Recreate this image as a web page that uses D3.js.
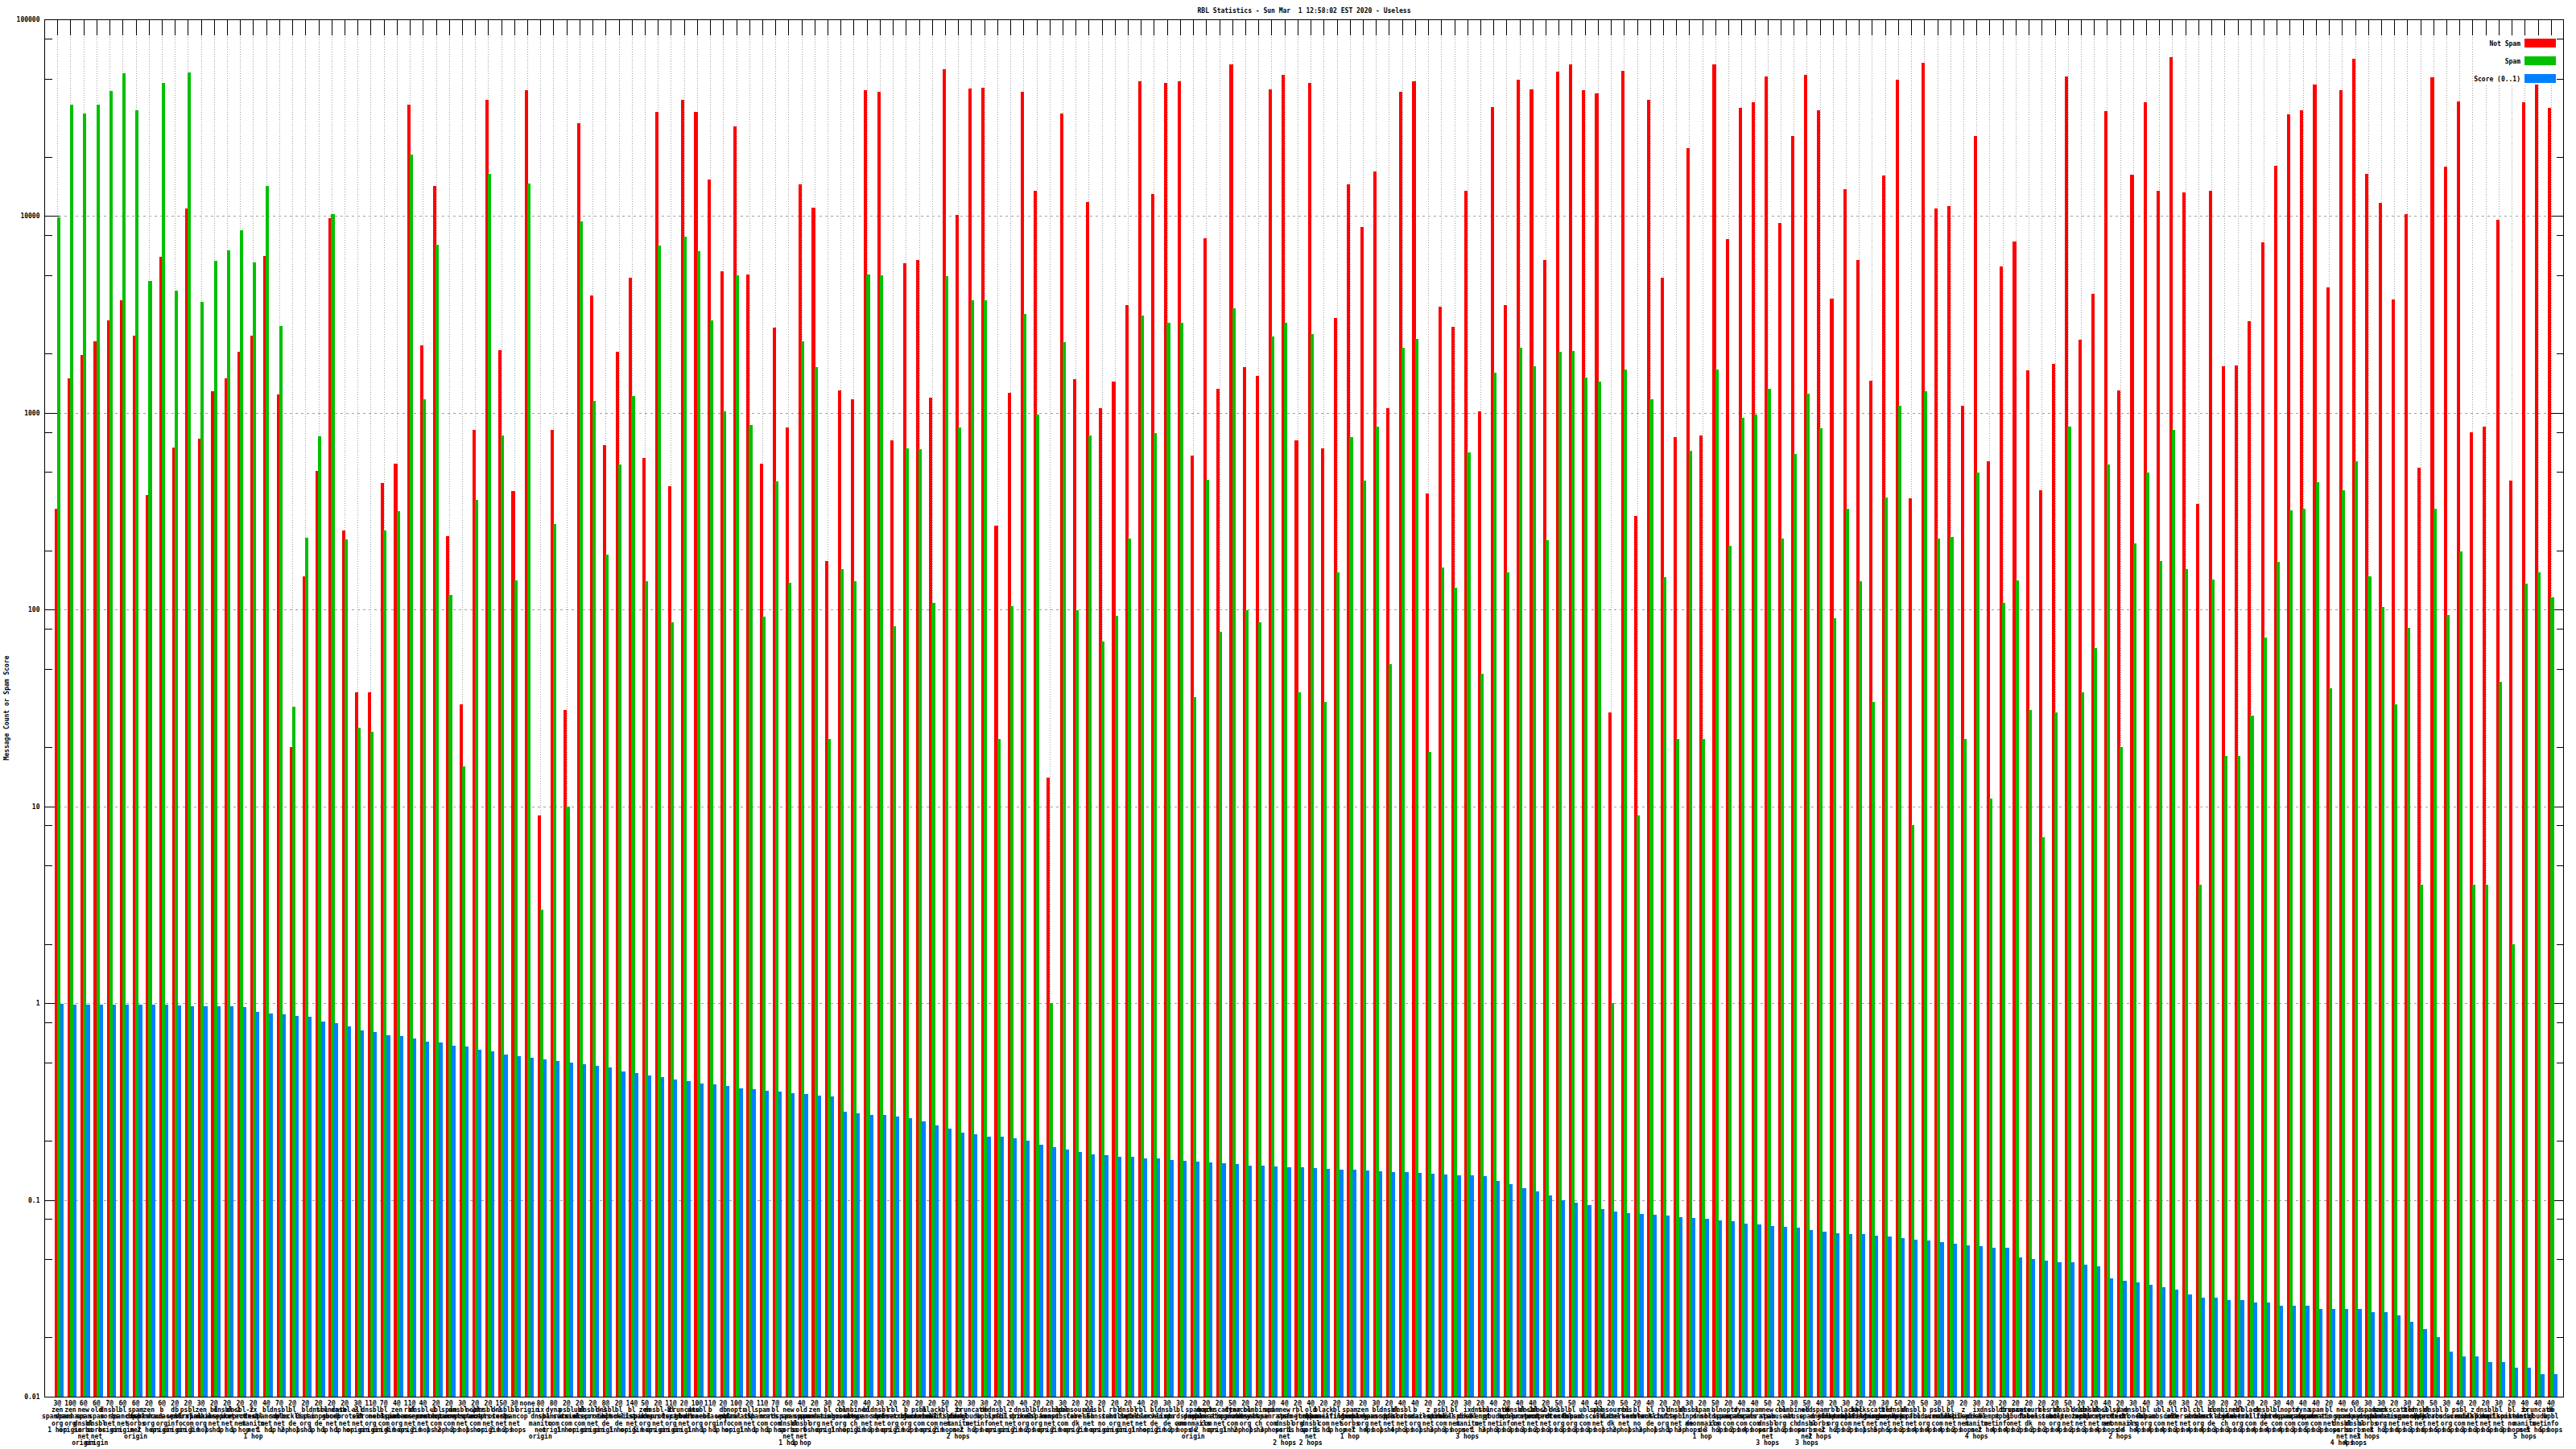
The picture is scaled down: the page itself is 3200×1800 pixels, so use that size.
<!DOCTYPE html>
<html><head><meta charset="utf-8">
<script src="https://cdn.jsdelivr.net/npm/d3@7"></script>
<style>
body{margin:0;background:#fff}
svg{display:block}
text{font-family:"DejaVu Sans Mono",monospace;font-size:8px;font-weight:bold;fill:#000}
</style>
</head><body>
<svg id="chart" width="3200" height="1800"></svg>
<script>
const title = "RBL Statistics - Sun Mar  1 12:58:02 EST 2020 - Useless";
const yTitle = "Message Count or Spam Score";
const seriesNames = ["Not Spam", "Spam", "Score (0..1)"];
const seriesColors = ["#ff0000", "#00c000", "#0080ff"];
const yTickValues = [0.01, 0.1, 1, 10, 100, 1000, 10000, 100000];
const yTickLabels = ["0.01", "0.1", "1", "10", "100", "1000", "10000", "100000"];

const notSpam = [327,1493,1965,2315,2940,3725,2475,382,6230,668,10900,736,1286,1504,2040,2475,6280,1240,20,147,507,9730,252,38,38,440,550,36900,2197,14200,237,33,
817,39100,2085,400,43800,9,817,31,29700,3958,683,2040,4840,589,34000,424,39100,34000,15400,5250,28600,5060,550,2707,841,14550,11050,176,1295,1175,43460,42840,
725,5780,5960,1194,56000,10100,44400,45100,267,1267,42840,13400,14,33200,1482,11810,1052,1438,3540,48200,12900,47500,48200,607,7730,1325,59000,1707,1538,44100,52300,725,47500,
658,3027,14550,8830,16900,1060,42840,48200,391,3460,2748,13400,1014,35800,3540,49300,44100,6000,54300,59000,43800,42200,30,54700,299,39100,4875,753,22240,764,59000,7670,
35550,38000,51200,9240,25600,52000,34500,3810,13700,5960,1459,16150,49300,368,60300,10900,11200,1084,25600,567,5570,7450,1644,406,1771,51200,2350,4015,34250,1306,16270,38000,13500,
64450,13200,344,13400,1732,1745,2917,7340,18060,33000,34500,46800,4325,43800,63050,16400,11640,3785,10250,527,50800,17920,38300,793,854,9590,451,38000,46500,35550];

const spam = [9810,36900,33200,36900,43400,53100,34500,4700,47500,4200,53900,3650,5910,6710,8510,5820,14200,2770,32,232,758,10250,227,25,24,252,315,20600,1167,7180,119,16,
360,16400,770,141,14700,3,271,10,9440,1150,190,547,1222,139,7070,86,7850,6610,2960,1014,5020,867,92,447,137,2316,1707,22,160,139,5060,5020,
82,658,653,108,4946,841,3726,3726,22,104,3190,977,1,2280,99,769,68.5,93,229,3120,787,2871,2871,36,457,77,3410,99,86,2440,2871,38,2513,
34,155,753,451,854,53,2133,2385,19,164,129,629,47,1607,154,2148,1719,225,2040,2070,1514,1438,1,1657,9,1167,146,22,639,22,1657,212,
948,984,1325,229,615,1248,835,90,324,139,34,371,1084,8,1286,229,234,22,496,11,108,141,31,7,30,848,38,64,547,20,217,496,176,
823,160,4,142,18,18,29,72,175,320,327,444,40,403,567,147,103,33,81,4,327,94,197,4,4,43,2,136,155,116];

const score = [0.995,0.985,0.985,0.985,0.985,0.985,0.985,0.98,0.98,0.97,0.965,0.965,0.965,0.965,0.955,
0.90,0.89,0.88,0.86,0.85,0.81,0.79,0.76,0.73,0.71,0.69,0.68,0.66,0.64,0.63,
0.61,0.60,0.58,0.57,0.55,0.54,0.53,0.52,0.51,0.50,0.49,0.48,0.47,0.45,0.44,
0.43,0.42,0.41,0.40,0.39,0.385,0.38,0.37,0.365,0.36,0.355,0.35,0.345,0.34,0.335,
0.28,0.275,0.27,0.27,0.265,0.26,0.25,0.24,0.23,0.22,0.215,0.21,0.21,0.205,0.20,
0.19,0.185,0.18,0.175,0.17,0.168,0.166,0.165,0.163,0.162,0.16,0.158,0.156,0.155,0.154,
0.152,0.15,0.149,0.148,0.147,0.146,0.145,0.144,0.143,0.142,0.141,0.14,0.139,0.138,0.137,
0.136,0.135,0.134,0.133,0.132,0.125,0.12,0.115,0.11,0.105,0.1,0.097,0.094,0.09,0.087,
0.086,0.085,0.084,0.083,0.082,0.081,0.08,0.079,0.078,0.076,0.075,0.074,0.073,0.072,0.07,
0.069,0.068,0.067,0.067,0.066,0.065,0.064,0.063,0.062,0.061,0.06,0.059,0.058,0.057,0.057,
0.051,0.05,0.049,0.048,0.048,0.047,0.046,0.04,0.039,0.038,0.037,0.036,0.035,0.033,0.032,
0.032,0.031,0.031,0.030,0.030,0.029,0.029,0.029,0.028,0.028,0.028,0.028,0.027,0.027,0.026,
0.024,0.022,0.02,0.017,0.016,0.016,0.015,0.015,0.014,0.014,0.013,0.013];

const labels = [
"3@ zen.spamhaus.org 1 hop","10@ zen.spamhaus.org origin","6@ new.spam.dnsbl.sorbs.net origin","6@ old.spam.dnsbl.sorbs.net origin",
"7@ dnsbl.sorbs.net origin","6@ bl.spamcop.net origin","6@ spam.dnsbl.sorbs.net origin","2@ zen.spamhaus.org 2 hops",
"6@ b.barracudacentral.org origin","2@ db.wpbl.info origin","2@ psbl.surriel.com origin","3@ zen.spamhaus.org 3 hops",
"2@ bl.mailspike.net 1 hop","2@ dnsbl-1.uceprotect.net 1 hop","2@ dnsbl-2.uceprotect.net 1 hop","2@ ix.dnsbl.manitu.net 1 hop",
"4@ bl.spamcop.net 1 hop","7@ dnsbl.sorbs.net 1 hop","2@ bl.blocklist.de 2 hops","2@ bl.0spam.org 1 hop",
"2@ dnsbl.inps.de 1 hop","2@ truncate.gbudb.net 1 hop","2@ dnsbl-3.uceprotect.net 1 hop","3@ all.s5h.net origin",
"11@ dnsbl.dronebl.org origin","7@ bl.nordspam.com origin","4@ zen.spamhaus.org 4 hops","11@ rbl.interserver.net origin",
"4@ dnsbl-1.uceprotect.net 2 hops","2@ ubl.unsubscore.com 1 hop","2@ spam.spamrats.com 2 hops","3@ dnsbl-2.uceprotect.net 2 hops",
"2@ noptr.spamrats.com 1 hop","2@ dnsbl-1.uceprotect.net origin","15@ dnsbl.sorbs.net 2 hops","3@ bl.spamcop.net 2 hops",
"none origin","8@ ix.dnsbl.manitu.net origin","8@ dyna.spamrats.com origin","2@ psbl.surriel.com 1 hop",
"2@ ubl.unsubscore.com origin","2@ dnsbl-3.uceprotect.net origin","8@ dnsbl.inps.de origin","2@ bl.blocklist.de 1 hop",
"14@ bl.mailspike.net origin","5@ zen.spamhaus.org 5 hops","2@ dnsbl-2.uceprotect.net origin","11@ bl.0spam.org origin",
"2@ truncate.gbudb.net origin","10@ dnsbl.dronebl.org 1 hop","11@ b.barracudacentral.org 1 hop","2@ db.wpbl.info 1 hop",
"10@ noptr.spamrats.com origin","2@ all.s5h.net 1 hop","11@ spam.spamrats.com 1 hop","7@ bl.nordspam.com 1 hop",
"6@ new.spam.dnsbl.sorbs.net 1 hop","4@ old.spam.dnsbl.sorbs.net 1 hop","2@ zen.spamhaus.org 6 hops","3@ bl.spameatingmonkey.net origin",
"2@ cbl.abuseat.org 1 hop","2@ combined.abuse.ch origin","4@ bl.spamcop.net 3 hops","3@ dnsbl.sorbs.net 3 hops",
"2@ rbl.efnetrbl.org origin","2@ b.barracudacentral.org 2 hops","2@ psbl.surriel.com 2 hops","2@ black.junkemailfilter.com origin",
"5@ bl.mailspike.net 2 hops","2@ ix.dnsbl.manitu.net 2 hops","3@ truncate.gbudb.net 2 hops","3@ db.wpbl.info 2 hops",
"2@ dnsbl.spfbl.net origin","2@ z.mailspike.net origin","4@ dnsbl.dronebl.org 2 hops","2@ bl.0spam.org 2 hops",
"2@ dnsbl.kempt.net origin","3@ ubl.unsubscore.com 2 hops","2@ spamsources.fabel.dk origin","2@ all.s5h.net 2 hops",
"2@ bl.konstant.no origin","2@ rbl.schulte.org origin","2@ dnsbl.zapbl.net origin","4@ rbl.interserver.net 1 hop",
"2@ bl.blocklist.de origin","3@ dnsbl.inps.de 2 hops","3@ bl.nordspam.com 2 hops","2@ spam.dnsbl.anonmails.de origin",
"2@ noptr.spamrats.com 2 hops","2@ backscatter.spameatingmonkey.net origin","5@ dyna.spamrats.com 1 hop","2@ cbl.abuseat.org 2 hops",
"2@ combined.abuse.ch 1 hop","3@ spam.spamrats.com 3 hops","4@ new.spam.dnsbl.sorbs.net 2 hops","2@ rbl.efnetrbl.org 1 hop",
"4@ old.spam.dnsbl.sorbs.net 2 hops","2@ black.junkemailfilter.com 1 hop","2@ bl.spameatingmonkey.net 1 hop","3@ spam.dnsbl.sorbs.net 1 hop",
"2@ zen.spamhaus.org 7 hops","3@ bl.spamcop.net 4 hops","2@ dnsbl.spfbl.net 1 hop","4@ dnsbl.sorbs.net 4 hops",
"4@ b.barracudacentral.org 3 hops","2@ z.mailspike.net 1 hop","2@ psbl.surriel.com 3 hops","2@ bl.mailspike.net 3 hops",
"3@ ix.dnsbl.manitu.net 3 hops","2@ dnsbl.kempt.net 1 hop","4@ truncate.gbudb.net 3 hops","2@ db.wpbl.info 3 hops",
"4@ dnsbl-1.uceprotect.net 3 hops","4@ dnsbl-2.uceprotect.net 3 hops","2@ dnsbl-3.uceprotect.net 2 hops","5@ dnsbl.dronebl.org 3 hops",
"5@ bl.0spam.org 3 hops","4@ ubl.unsubscore.com 3 hops","4@ all.s5h.net 3 hops","2@ spamsources.fabel.dk 1 hop",
"5@ rbl.interserver.net 2 hops","2@ bl.konstant.no 1 hop","4@ bl.blocklist.de 3 hops","2@ rbl.schulte.org 1 hop",
"2@ dnsbl.zapbl.net 1 hop","3@ dnsbl.inps.de 3 hops","2@ spam.dnsbl.anonmails.de 1 hop","5@ bl.nordspam.com 3 hops",
"2@ noptr.spamrats.com 3 hops","4@ dyna.spamrats.com 2 hops","4@ spam.spamrats.com 4 hops","5@ new.spam.dnsbl.sorbs.net 3 hops",
"2@ cbl.abuseat.org 3 hops","3@ combined.abuse.ch 2 hops","5@ old.spam.dnsbl.sorbs.net 3 hops","4@ spam.dnsbl.sorbs.net 2 hops",
"2@ rbl.efnetrbl.org 2 hops","3@ black.junkemailfilter.com 2 hops","2@ bl.spameatingmonkey.net 2 hops","2@ backscatter.spameatingmonkey.net 1 hop",
"3@ bl.spamcop.net 5 hops","5@ dnsbl.sorbs.net 5 hops","2@ dnsbl.spfbl.net 2 hops","5@ b.barracudacentral.org 4 hops",
"3@ psbl.surriel.com 4 hops","3@ bl.mailspike.net 4 hops","2@ z.mailspike.net 2 hops","3@ ix.dnsbl.manitu.net 4 hops",
"2@ dnsbl.kempt.net 2 hops","2@ db.wpbl.info 4 hops","2@ truncate.gbudb.net 4 hops","2@ spamsources.fabel.dk 2 hops",
"2@ bl.konstant.no 2 hops","2@ rbl.schulte.org 2 hops","5@ dnsbl-1.uceprotect.net 4 hops","2@ dnsbl.zapbl.net 2 hops",
"2@ dnsbl-3.uceprotect.net 3 hops","4@ dnsbl-2.uceprotect.net 4 hops","2@ spam.dnsbl.anonmails.de 2 hops","3@ dnsbl.dronebl.org 4 hops",
"4@ bl.0spam.org 4 hops","3@ ubl.unsubscore.com 4 hops","6@ all.s5h.net 4 hops","3@ rbl.interserver.net 3 hops",
"2@ cbl.abuseat.org 4 hops","3@ bl.blocklist.de 4 hops","2@ combined.abuse.ch 3 hops","2@ rbl.efnetrbl.org 3 hops",
"2@ black.junkemailfilter.com 3 hops","2@ dnsbl.inps.de 4 hops","3@ bl.nordspam.com 4 hops","4@ noptr.spamrats.com 4 hops",
"4@ dyna.spamrats.com 3 hops","4@ spam.spamrats.com 5 hops","2@ bl.spameatingmonkey.net 3 hops","4@ new.spam.dnsbl.sorbs.net 4 hops",
"6@ old.spam.dnsbl.sorbs.net 4 hops","3@ spam.dnsbl.sorbs.net 3 hops","3@ zen.spamhaus.org 8 hops","2@ backscatter.spameatingmonkey.net 2 hops",
"3@ bl.spamcop.net 6 hops","2@ dnsbl.spfbl.net 3 hops","5@ dnsbl.sorbs.net 6 hops","3@ b.barracudacentral.org 5 hops",
"4@ psbl.surriel.com 5 hops","2@ z.mailspike.net 3 hops","2@ dnsbl.kempt.net 3 hops","3@ bl.mailspike.net 5 hops",
"2@ bl.konstant.no 3 hops","4@ ix.dnsbl.manitu.net 5 hops","4@ truncate.gbudb.net 5 hops","4@ db.wpbl.info 5 hops"];

const W = 3200, H = 1800;
const M = {l: 55, r: 3185, t: 24, b: 1735};
const N = labels.length;
const svg = d3.select("#chart");

const x = d3.scaleLinear().domain([-1, N]).range([M.l, M.r]);
const y = d3.scaleLog().domain([0.01, 100000]).range([M.b, M.t]);
const idx = d3.range(N);

const minorTicks = [];
for (let k = -2; k <= 4; k++) [2, 5, 8].forEach(m => minorTicks.push(m * Math.pow(10, k)));

// grid
const grid = svg.append("g").attr("stroke", "#a0a0a0").attr("stroke-width", 1).attr("shape-rendering", "crispEdges");
grid.selectAll("line.h").data(yTickValues.filter(v => v > 0.01 && v < 100000)).join("line")
  .attr("x1", M.l + 18).attr("x2", M.r - 18)
  .attr("y1", d => Math.round(y(d)) + 0.5).attr("y2", d => Math.round(y(d)) + 0.5)
  .attr("stroke-dasharray", "3,4");
grid.selectAll("line.v").data(idx).join("line")
  .attr("x1", d => Math.round(x(d)) + 0.5).attr("x2", d => Math.round(x(d)) + 0.5)
  .attr("y1", M.t + 19).attr("y2", M.b)
  .attr("stroke-dasharray", "1,2");

// legend background hides grid
svg.append("rect").attr("x", 3072).attr("y", M.t + 19).attr("width", M.r - 3072 - 1).attr("height", 106 - (M.t + 19)).attr("fill", "#fff");

// axes (inward ticks)
const axG = svg.append("g").attr("shape-rendering", "crispEdges");
const left = d3.axisLeft(y).tickValues(yTickValues).tickFormat((d, i) => yTickLabels[i]).tickSizeInner(-18).tickSizeOuter(0).tickPadding(6);
const gl = axG.append("g").attr("transform", `translate(${M.l + 0.5},0)`).call(left);
gl.select(".domain").remove();
gl.selectAll("text").attr("font-size", 8).attr("font-family", "DejaVu Sans Mono, monospace").attr("font-weight", "bold").attr("fill", "#000");
const gl2 = axG.append("g").attr("transform", `translate(${M.l + 0.5},0)`).call(d3.axisLeft(y).tickValues(minorTicks).tickFormat("").tickSizeInner(-9).tickSizeOuter(0));
gl2.select(".domain").remove();
const gr = axG.append("g").attr("transform", `translate(${M.r - 0.5},0)`).call(d3.axisRight(y).tickValues(yTickValues).tickFormat("").tickSizeInner(-18).tickSizeOuter(0));
gr.select(".domain").remove();
const gr2 = axG.append("g").attr("transform", `translate(${M.r - 0.5},0)`).call(d3.axisRight(y).tickValues(minorTicks).tickFormat("").tickSizeInner(-9).tickSizeOuter(0));
gr2.select(".domain").remove();
const gt = axG.append("g").attr("transform", `translate(0,${M.t + 0.5})`).call(d3.axisTop(x).tickValues(idx).tickFormat("").tickSizeInner(-19).tickSizeOuter(0).offset(0.5));
gt.select(".domain").remove();
const gb = axG.append("g").attr("transform", `translate(0,${M.b - 0.5})`).call(d3.axisBottom(x).tickValues(idx).tickFormat("").tickSizeInner(-19).tickSizeOuter(0).offset(0.5));
gb.select(".domain").remove();
axG.selectAll(".tick line").attr("stroke", "#000");

// bars
const series = [notSpam, spam, score];
const offs = [[-3.4, 4.1], [-0.3, 4.1], [3.7, 4.3]];
series.forEach((vals, s) => {
  svg.append("g").attr("fill", seriesColors[s]).attr("shape-rendering", "crispEdges")
    .selectAll("rect").data(idx.filter(i => vals[i] > 0)).join("rect")
    .attr("x", i => x(i) + offs[s][0])
    .attr("width", offs[s][1])
    .attr("y", i => y(vals[i]))
    .attr("height", i => y(0.01) - y(vals[i]));
});

// border
svg.append("rect").attr("x", M.l + 0.5).attr("y", M.t + 0.5).attr("width", M.r - M.l - 1).attr("height", M.b - M.t)
  .attr("fill", "none").attr("stroke", "#000").attr("stroke-width", 1).attr("shape-rendering", "crispEdges");

// x labels (multi-line)
const xl = svg.append("g");
idx.forEach(i => {
  const tok = labels[i].split(" ");
  const lines = [tok[0]].concat(tok.length > 1 ? tok[1].split(".") : []);
  if (tok.length > 2) lines.push(tok.slice(2).join(" "));
  const t = xl.append("text").attr("text-anchor", "middle").attr("x", x(i)).attr("y", 1746);
  lines.forEach((ln, j) => t.append("tspan").attr("x", x(i)).attr("y", 1746 + j * 8.2).text(ln));
});

// title
svg.append("text").attr("x", (M.l + M.r) / 2).attr("y", 16).attr("text-anchor", "middle").style("white-space", "pre").attr("xml:space", "preserve").text(title);
// y title
svg.append("text").attr("transform", `translate(11,${(M.t + M.b) / 2}) rotate(-90)`).attr("text-anchor", "middle").text(yTitle);

// legend
const lg = svg.append("g");
const rowsY = [53.5, 75.5, 97.5];
seriesNames.forEach((n, s) => {
  lg.append("text").attr("x", 3131).attr("y", rowsY[s] + 3).attr("text-anchor", "end").style("white-space", "pre").text(n);
  lg.append("rect").attr("x", 3136).attr("y", rowsY[s] - 5.5).attr("width", 39).attr("height", 11).attr("fill", seriesColors[s]);
});
</script>
</body></html>
